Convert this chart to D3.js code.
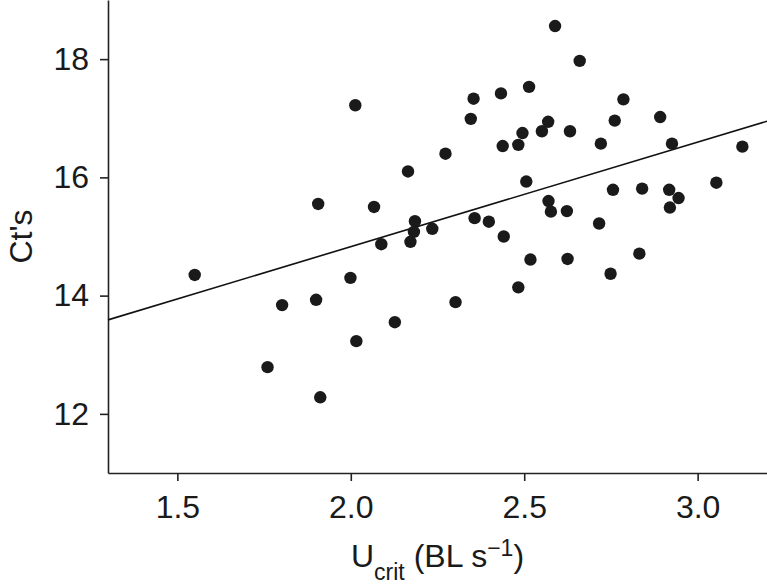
<!DOCTYPE html>
<html>
<head>
<meta charset="utf-8">
<script src="https://cdn.jsdelivr.net/npm/d3@7"></script>
<style>
  body { margin: 0; background: #fff; }
  svg text { font-family: "Liberation Sans", Arial, Helvetica, sans-serif; fill: #1a1a1a; }
</style>
</head>
<body>
<div id="chart"></div>
<script>
// Ct's vs Ucrit scatter

// data
var ucrit = [1.550, 1.760, 1.802, 1.900, 1.906, 1.912, 1.999, 2.013, 2.016, 2.067,
             2.088, 2.127, 2.165, 2.172, 2.182, 2.185, 2.235, 2.273, 2.302, 2.346,
             2.354, 2.357, 2.398, 2.433, 2.438, 2.441, 2.483, 2.483, 2.495, 2.506,
             2.514, 2.518, 2.551, 2.569, 2.570, 2.577, 2.589, 2.623, 2.625, 2.632,
             2.660, 2.716, 2.721, 2.749, 2.756, 2.761, 2.786, 2.832, 2.840, 2.892,
             2.918, 2.920, 2.926, 2.945, 3.054, 3.129];
var cts   = [14.35, 12.79, 13.84, 13.93, 15.55, 12.28, 14.30, 17.22, 13.23, 15.50,
             14.87, 13.55, 16.10, 14.91, 15.08, 15.26, 15.13, 16.40, 13.89, 16.99,
             17.33, 15.31, 15.25, 17.42, 16.53, 15.00, 16.55, 14.14, 16.75, 15.93,
             17.53, 14.61, 16.78, 16.94, 15.60, 15.42, 18.56, 15.43, 14.62, 16.78,
             17.97, 15.22, 16.57, 14.37, 15.79, 16.96, 17.32, 14.71, 15.81, 17.02,
             15.79, 15.49, 16.57, 15.65, 15.91, 16.52];

// fitted line end points
var fitX = [1.3, 3.2];
var fitY = [13.59, 16.95];

var xTicks = [1.5, 2.0, 2.5, 3.0];
var yTicks = [12, 14, 16, 18];

var svgWidth = 767;
var svgHeight = 585;

var margin = {
  top: 0,
  right: 0,
  bottom: 112,
  left: 108
};

var width = svgWidth - margin.left - margin.right;
var height = svgHeight - margin.top - margin.bottom;

var svg = d3.select("#chart")
  .append("svg")
  .attr("width", svgWidth)
  .attr("height", svgHeight);

var chartGroup = svg.append("g")
  .attr("transform", `translate(${margin.left}, ${margin.top})`);

var points = ucrit.map(function(u, i) {
  return { u: u, ct: cts[i] };
});

// scales
var xScale = d3.scaleLinear()
  .domain([1.3, 3.2])
  .range([0, width]);

var yScale = d3.scaleLinear()
  .domain([11, 19])
  .range([height, 0]);

// axes
var bottomAxis = d3.axisBottom(xScale)
  .tickValues(xTicks)
  .tickFormat(d3.format(".1f"))
  .tickSize(8)
  .tickPadding(14)
  .tickSizeOuter(0);

var leftAxis = d3.axisLeft(yScale)
  .tickValues(yTicks)
  .tickFormat(d3.format("d"))
  .tickSize(8)
  .tickPadding(11)
  .tickSizeOuter(0);

var xAxisG = chartGroup.append("g")
  .attr("transform", `translate(0, ${height})`)
  .call(bottomAxis);

var yAxisG = chartGroup.append("g")
  .call(leftAxis);

[xAxisG, yAxisG].forEach(function(g) {
  g.selectAll("path, line")
    .attr("stroke", "#222")
    .attr("stroke-width", 1.6);
  g.selectAll("text")
    .attr("fill", "#1a1a1a")
    .style("font-size", "32px");
});

// fitted line
chartGroup.append("line")
  .attr("x1", xScale(fitX[0]))
  .attr("y1", yScale(fitY[0]))
  .attr("x2", xScale(fitX[1]))
  .attr("y2", yScale(fitY[1]))
  .attr("stroke", "#111")
  .attr("stroke-width", 1.6);

// dots
chartGroup.selectAll("circle")
  .data(points)
  .enter()
  .append("circle")
  .attr("cx", d => xScale(d.u))
  .attr("cy", d => yScale(d.ct))
  .attr("r", 6.2)
  .attr("fill", "#1a1a1a");

// axis labels
svg.append("text")
  .attr("transform", `translate(32, ${margin.top + height / 2}) rotate(-90)`)
  .style("text-anchor", "middle")
  .style("font-size", "32px")
  .text("Ct's");

var xLabel = svg.append("text")
  .attr("x", margin.left + width / 2)
  .attr("y", 567)
  .style("text-anchor", "middle")
  .style("font-size", "32px");

xLabel.append("tspan").text("U");
xLabel.append("tspan")
  .attr("dy", 13)
  .style("font-size", "23px")
  .text("crit");
xLabel.append("tspan")
  .attr("dy", -13)
  .text(" (BL s");
xLabel.append("tspan")
  .attr("dy", -11)
  .style("font-size", "23px")
  .text("\u22121");
xLabel.append("tspan")
  .attr("dy", 11)
  .text(")");
</script>
</body>
</html>
